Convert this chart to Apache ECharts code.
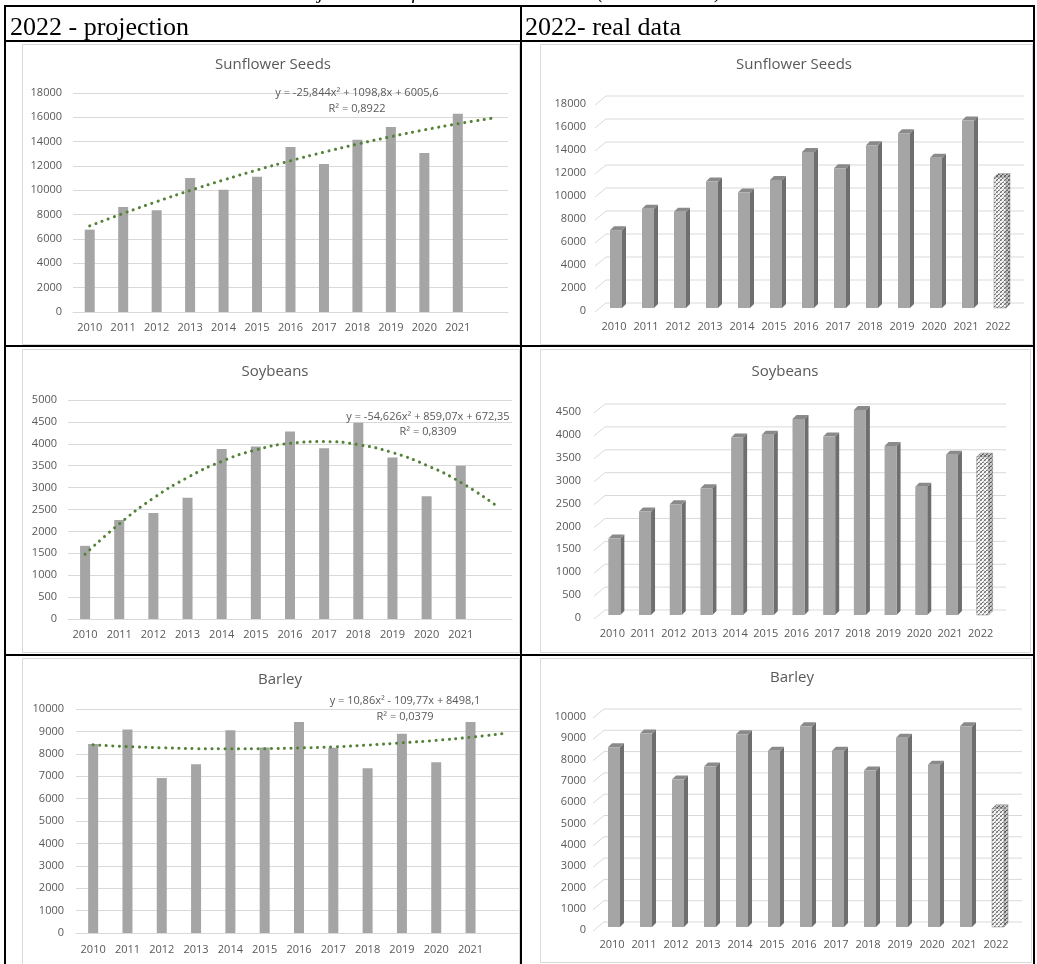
<!DOCTYPE html>
<html><head><meta charset="utf-8">
<script src="https://cdn.jsdelivr.net/npm/echarts@6/dist/echarts.min.js"></script>
<style>html,body{margin:0;padding:0;background:#fff;overflow:hidden}#c{width:1037px;height:964px}</style>
</head><body><div id="c"></div>
<script>
// ---------- data ----------
var years = ['2010','2011','2012','2013','2014','2015','2016','2017','2018','2019','2020','2021','2022'];
var leftYearLabels = ['2010','2011','2012','2013','2014','2015','2016','2017','2018','2019','2020','2021',''];

var sunflower = [6770, 8630, 8360, 11010, 10050, 11120, 13560, 12160, 14160, 15200, 13070, 16300];
var sunflower2022 = 11350;
var sunflowerTrend = [7080, 8100, 9070, 9990, 10850, 11670, 12430, 13140, 13800, 14410, 14970, 15470, 15920];
var sunflowerEq = 'y = -25,844x² + 1098,8x + 6005,6';
var sunflowerR2 = 'R² = 0,8922';

var soybeans = [1670, 2260, 2420, 2770, 3880, 3940, 4280, 3900, 4480, 3690, 2800, 3500];
var soybeans2022 = 3450;
var soybeansTrend = [1480, 2170, 2760, 3230, 3600, 3860, 4010, 4050, 3980, 3800, 3510, 3120, 2610];
var soybeansEq = 'y = -54,626x² + 859,07x + 672,35';
var soybeansR2 = 'R² = 0,8309';

var barley = [8440, 9080, 6920, 7530, 9050, 8280, 9420, 8270, 7350, 8890, 7620, 9420];
var barley2022 = 5550;
var barleyTrend = [8400, 8320, 8270, 8230, 8220, 8230, 8260, 8310, 8390, 8490, 8600, 8740, 8910];
var barleyEq = 'y = 10,86x² - 109,77x + 8498,1';
var barleyR2 = 'R² = 0,0379';

var sunflowerTicks = [0, 2000, 4000, 6000, 8000, 10000, 12000, 14000, 16000, 18000];
var soyTicksLeft = [0, 500, 1000, 1500, 2000, 2500, 3000, 3500, 4000, 4500, 5000];
var soyTicksRight = [0, 500, 1000, 1500, 2000, 2500, 3000, 3500, 4000, 4500];
var barleyTicks = [0, 1000, 2000, 3000, 4000, 5000, 6000, 7000, 8000, 9000, 10000];

var titles = ['Sunflower Seeds', 'Soybeans', 'Barley'];
var headerLeft = '2022 - projection';
var headerRight = '2022- real data';
var caption = 'Actual data: Projected data for 2022 and real data (thousand tons)';

// ---------- styles ----------
var FONT = 'Open Sans';
var LBL = '#595959';
var GRIDC = '#d9d9d9';
var TREND = '#538135';

function makePattern(dark) {
  var c = document.createElement('canvas');
  c.width = 4; c.height = 4;
  var g = c.getContext('2d');
  g.fillStyle = dark ? '#c8c8c8' : '#f4f4f4';
  g.fillRect(0, 0, 4, 4);
  g.fillStyle = dark ? '#505050' : '#6e6e6e';
  g.fillRect(0, 0, 1, 1); g.fillRect(2, 2, 1, 1); g.fillRect(1, 3, 1, 1);
  g.fillStyle = dark ? '#808080' : '#a8a8a8';
  g.fillRect(1, 0, 1, 1); g.fillRect(3, 2, 1, 1); g.fillRect(0, 3, 1, 1); g.fillRect(3, 1, 1, 1);
  return c;
}
var patLight = { image: makePattern(false), repeat: 'repeat' };
var patDark = { image: makePattern(true), repeat: 'repeat' };

function bar3d(params, api) {
  var idx = api.value(0), v = api.value(1);
  var b = api.coord([idx, 0]), t = api.coord([idx, v]);
  var w = 12, d = 4, off = 2, dn = 3;
  var x0 = b[0] - w / 2 + off, yb = b[1] - dn, yt = t[1] - dn;
  var proj = idx === 12;
  return {
    type: 'group',
    children: [
      { type: 'polygon', shape: { points: [[x0 + w, yt], [x0 + w + d, yt - d], [x0 + w + d, yb - d], [x0 + w, yb]] },
        style: { fill: proj ? patDark : '#6e6e6e', stroke: proj ? '#8a8a8a' : null, lineWidth: 0.5 } },
      { type: 'polygon', shape: { points: [[x0, yt], [x0 + d, yt - d], [x0 + w + d, yt - d], [x0 + w, yt]] },
        style: { fill: proj ? patDark : '#8a8a8a', stroke: proj ? '#8a8a8a' : null, lineWidth: 0.5 } },
      { type: 'rect', shape: { x: x0, y: yt, width: w, height: yb - yt },
        style: { fill: proj ? patLight : '#a5a5a5', stroke: proj ? '#8a8a8a' : null, lineWidth: 0.5 } }
    ]
  };
}
function wall(params, api) {
  var cs = params.coordSys;
  var y = api.coord([0, api.value(1)])[1];
  return {
    type: 'polyline',
    shape: { points: [[cs.x - 3, y + 1], [cs.x + 8, y - 8], [cs.x + cs.width + 10, y - 8]] },
    style: { stroke: GRIDC, lineWidth: 1, fill: null }
  };
}
function plain(v) { return String(v); }

// ---------- layout ----------
var grids = [
  { left: 73, top: 93, width: 435, height: 219 },
  { left: 598, top: 104, width: 416, height: 207 },
  { left: 68, top: 400, width: 444, height: 219 },
  { left: 597, top: 412, width: 399, height: 206 },
  { left: 76, top: 709, width: 446, height: 224 },
  { left: 596, top: 717, width: 416, height: 213 }
];
var yMax = [18000, 18000, 5000, 4500, 10000, 10000];
var yInt = [2000, 2000, 500, 500, 1000, 1000];
var yMargin = [11, 12, 11, 16, 12, 10];
var xMargin = [10, 10, 10, 10, 11, 9];

var xAxes = [], yAxes = [], series = [];
for (var i = 0; i < 6; i++) {
  var isLeft = i % 2 === 0;
  xAxes.push({
    gridIndex: i, type: 'category', data: isLeft ? leftYearLabels : years,
    axisLine: { show: isLeft, lineStyle: { color: GRIDC } },
    axisTick: { show: false },
    axisLabel: { interval: 0, color: LBL, fontSize: 11, fontFamily: FONT, margin: xMargin[i] }
  });
  yAxes.push({
    gridIndex: i, type: 'value', min: 0, max: yMax[i], interval: yInt[i],
    axisLine: { show: false }, axisTick: { show: false },
    axisLabel: { color: LBL, fontSize: 11, fontFamily: FONT, margin: yMargin[i], formatter: plain },
    splitLine: { show: isLeft, lineStyle: { color: GRIDC } }
  });
}
var vals = [sunflower, soybeans, barley];
var v22 = [sunflower2022, soybeans2022, barley2022];
var trends = [sunflowerTrend, soybeansTrend, barleyTrend];
var wallTicks = [sunflowerTicks, soyTicksRight, barleyTicks];
for (var r = 0; r < 3; r++) {
  var li = r * 2, ri = r * 2 + 1;
  series.push({
    type: 'bar', xAxisIndex: li, yAxisIndex: li, data: vals[r], barWidth: 10,
    itemStyle: { color: '#a5a5a5' }, silent: true
  });
  series.push({
    type: 'line', xAxisIndex: li, yAxisIndex: li, data: trends[r], smooth: true,
    showSymbol: false, silent: true, z: 5,
    lineStyle: { color: TREND, width: 3, type: [0.1, 6.5], cap: 'round' }
  });
  series.push({
    type: 'custom', xAxisIndex: ri, yAxisIndex: ri, silent: true, z: 1,
    data: wallTicks[r].map(function (t) { return [0, t]; }),
    renderItem: wall, encode: { x: 0, y: 1 }
  });
  var rightData = vals[r].concat([v22[r]]).map(function (v, k) { return [k, v]; });
  series.push({
    type: 'custom', xAxisIndex: ri, yAxisIndex: ri, silent: true, z: 3,
    data: rightData, renderItem: bar3d, encode: { x: 0, y: 1 }
  });
}

// ---------- graphic: table, frames, texts ----------
function txt(x, y, s, size, opts) {
  opts = opts || {};
  return {
    type: 'text', x: x, y: y, z: 50, silent: true,
    style: {
      text: s, fill: opts.color || LBL, fontSize: size, fontFamily: opts.family || FONT,
      fontStyle: opts.italic ? 'italic' : 'normal',
      align: opts.align || 'center', verticalAlign: opts.valign || 'middle'
    }
  };
}
function frame(x1, y1, x2, y2) {
  return { type: 'rect', z: -1, silent: true, shape: { x: x1 + 0.5, y: y1 + 0.5, width: x2 - x1, height: y2 - y1 },
    style: { fill: null, stroke: GRIDC, lineWidth: 1 } };
}
function bline(x1, y1, x2, y2) {
  return { type: 'line', z: 100, silent: true, shape: { x1: x1, y1: y1, x2: x2, y2: y2 },
    style: { stroke: '#000', lineWidth: 2 } };
}
var graphics = [
  frame(22, 44, 519, 344), frame(540, 44, 1032, 344),
  frame(22, 349, 519, 652), frame(540, 349, 1030, 652),
  frame(22, 658, 519, 975), frame(540, 658, 1031, 962),
  bline(5, 6, 1034, 6), bline(5, 41, 1034, 41), bline(5, 346, 1034, 346), bline(5, 655, 1034, 655),
  bline(5, 5, 5, 964), bline(521, 5, 521, 964), bline(1034, 5, 1034, 964),
  txt(722, 3, caption, 20, { family: 'Liberation Serif', italic: true, align: 'right', valign: 'bottom', color: '#000' }),
  txt(10, 28, headerLeft, 26, { family: 'Liberation Serif', align: 'left', valign: 'middle', color: '#000' }),
  txt(525, 28, headerRight, 26, { family: 'Liberation Serif', align: 'left', valign: 'middle', color: '#000' }),
  txt(273, 65, titles[0], 15), txt(794, 65, titles[0], 15),
  txt(275, 372, titles[1], 15), txt(785, 372, titles[1], 15),
  txt(280, 680, titles[2], 15), txt(792, 678, titles[2], 15),
  txt(357, 93, sunflowerEq, 11), txt(357, 109, sunflowerR2, 11),
  txt(428, 417, soybeansEq, 11), txt(428, 432, soybeansR2, 11),
  txt(405, 701, barleyEq, 11), txt(405, 717, barleyR2, 11)
];

var chart = echarts.init(document.getElementById('c'), null, { renderer: 'canvas' });
chart.setOption({
  animation: false,
  backgroundColor: '#ffffff',
  grid: grids,
  xAxis: xAxes,
  yAxis: yAxes,
  series: series,
  graphic: { elements: graphics }
});
</script>
</body></html>
